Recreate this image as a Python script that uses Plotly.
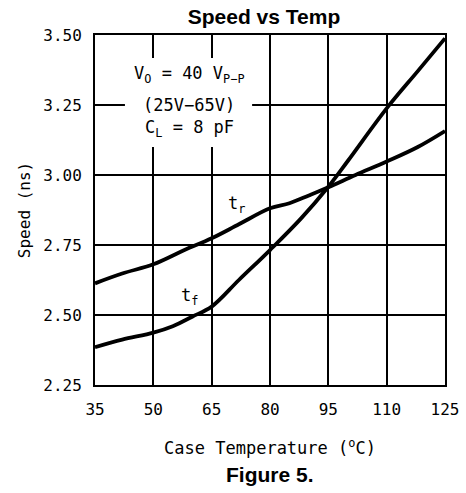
import plotly.graph_objects as go

temp_r = [35, 42, 50, 58, 65, 72, 80, 85, 90, 95, 102, 110, 118, 125]
speed_r = [2.613, 2.648, 2.681, 2.732, 2.774, 2.824, 2.881, 2.899, 2.927, 2.956, 3.000, 3.048, 3.100, 3.157]

temp_f = [35, 42, 50, 55, 60, 65, 72, 80, 88, 95, 100, 110, 118, 125]
speed_f = [2.385, 2.412, 2.437, 2.460, 2.494, 2.530, 2.625, 2.732, 2.845, 2.958, 3.050, 3.238, 3.371, 3.488]

x_ticks = [35, 50, 65, 80, 95, 110, 125]
y_ticks = [2.25, 2.50, 2.75, 3.00, 3.25, 3.50]
y_tick_labels = ["2.25", "2.50", "2.75", "3.00", "3.25", "3.50"]

MONO = "DejaVu Sans Mono"
SANS = "Liberation Sans"

fig = go.Figure()
fig.add_trace(go.Scatter(x=temp_r, y=speed_r, mode="lines",
                         line=dict(color="black", width=3.8, shape="spline"),
                         showlegend=False, hoverinfo="skip"))
fig.add_trace(go.Scatter(x=temp_f, y=speed_f, mode="lines",
                         line=dict(color="black", width=3.8, shape="spline"),
                         showlegend=False, hoverinfo="skip"))

fig.add_shape(type="rect", x0=42.7, x1=75.4, y0=3.10, y1=3.418,
              fillcolor="white", line=dict(width=0), layer="above")

ann_font = dict(family=MONO, size=17, color="black")
fig.add_annotation(x=59.2, y=3.36, text="V<sub>O</sub> = 40 V<sub>P\u2212P</sub>",
                   showarrow=False, font=ann_font)
fig.add_annotation(x=59.2, y=3.25, text="(25V\u221265V)", showarrow=False, font=ann_font)
fig.add_annotation(x=59.2, y=3.166, text="C<sub>L</sub> = 8 pF", showarrow=False, font=ann_font)
fig.add_annotation(x=71.5, y=2.895, text="t<sub>r</sub>", showarrow=False, font=ann_font)
fig.add_annotation(x=59.4, y=2.565, text="t<sub>f</sub>", showarrow=False, font=ann_font)

fig.add_annotation(x=0.5, y=-0.294, xref="paper", yref="paper",
                   text="<b>Figure 5.</b>", showarrow=False,
                   font=dict(family=SANS, size=21, color="black"))

fig.update_layout(
    width=466, height=493,
    margin=dict(l=95, r=21, t=35, b=108, autoexpand=False),
    paper_bgcolor="white", plot_bgcolor="white",
    title=dict(text="<b>Speed vs Temp</b>", x=264 / 466, xanchor="center",
               y=1 - 17 / 493, yanchor="middle", automargin=False,
               font=dict(family=SANS, size=21, color="black")),
    xaxis=dict(range=[35, 125], tickvals=x_ticks, ticktext=[str(v) for v in x_ticks],
               showgrid=True, gridcolor="black", gridwidth=1.5,
               showline=True, linecolor="black", linewidth=2, mirror=True,
               zeroline=False, ticks="", ticklen=0, automargin=False,
               ticklabelstandoff=9,
               tickfont=dict(family=MONO, size=16, color="black"),
               title=dict(text="Case Temperature (<sup>o</sup>C)", standoff=24,
                          font=dict(family=MONO, size=17, color="black"))),
    yaxis=dict(range=[2.25, 3.5], tickvals=y_ticks, ticktext=y_tick_labels,
               showgrid=True, gridcolor="black", gridwidth=1.5,
               showline=True, linecolor="black", linewidth=2, mirror=True,
               zeroline=False, ticks="", ticklen=0, automargin=False,
               ticklabelstandoff=8,
               tickfont=dict(family=MONO, size=16, color="black"),
               title=dict(text="Speed (ns)", standoff=9,
                          font=dict(family=MONO, size=16, color="black"))),
)

fig.write_html("out.html", config={"displayModeBar": False},
               post_script="document.body.style.margin='0';")
